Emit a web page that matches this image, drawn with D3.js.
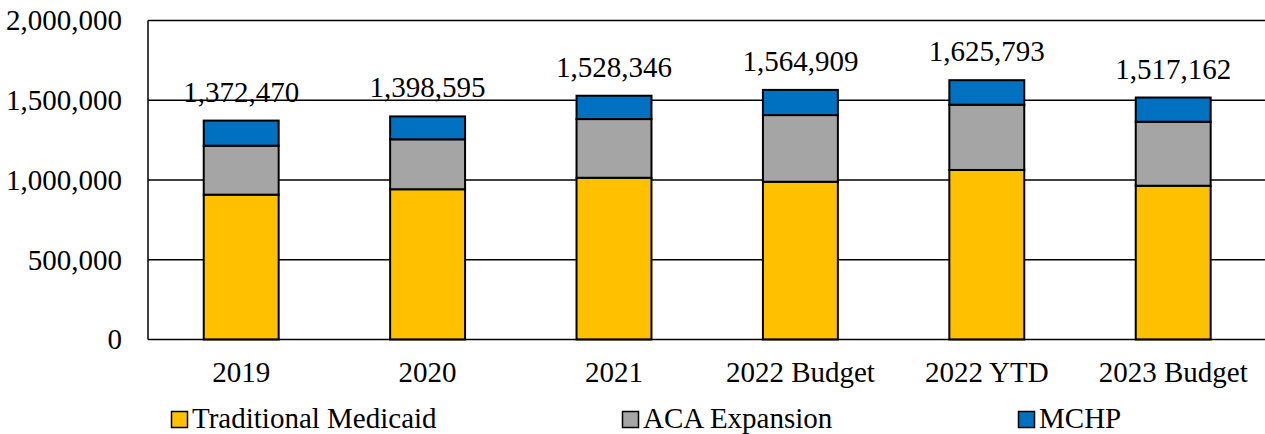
<!DOCTYPE html>
<html>
<head>
<meta charset="utf-8">
<script src="https://cdn.jsdelivr.net/npm/d3@7"></script>
<style>
  body { margin: 0; background: #fff; }
</style>
</head>
<body>
<svg id="graph" width="1265" height="434" font-family="'Liberation Serif', 'Times New Roman', serif"></svg>
<script>
// values
var categories = ["2019", "2020", "2021", "2022 Budget", "2022 YTD", "2023 Budget"];
var traditional = [908000, 942000, 1014000, 989000, 1063000, 964000];
var aca = [307000, 313000, 368000, 418000, 409000, 401000];
var mchp = [157470, 143595, 146346, 157909, 153793, 152162];
var yTicks = [0, 500000, 1000000, 1500000, 2000000];

var seriesNames = ["Traditional Medicaid", "ACA Expansion", "MCHP"];
var colors = ["#FFC000", "#A5A5A5", "#0070C0"];

var svg = d3.select("#graph");
var plotLeft = 148, plotRight = 1266.4, plotTop = 20.5, plotBottom = 339.5;

var rows = categories.map(function(c, i) {
  return { cat: c, "Traditional Medicaid": traditional[i], "ACA Expansion": aca[i], "MCHP": mchp[i] };
});
var stack = d3.stack().keys(seriesNames)(rows);

var x = d3.scaleBand().domain(categories).range([plotLeft, plotRight]).paddingInner(0.598).paddingOuter(0.299);
var y = d3.scaleLinear().domain([0, 2000000]).range([plotBottom, plotTop]);

var fmt = d3.format(",");

// gridlines
svg.append("g")
  .selectAll("line")
  .data(yTicks.slice(1))
  .enter().append("line")
  .attr("x1", plotLeft).attr("x2", 1265)
  .attr("y1", function(d) { return y(d); })
  .attr("y2", function(d) { return y(d); })
  .attr("stroke", "#000")
  .attr("stroke-width", 1.5);

// y axis labels
svg.append("g")
  .selectAll("text")
  .data(yTicks)
  .enter().append("text")
  .attr("x", 122)
  .attr("y", function(d) { return y(d); })
  .attr("dy", "0.34em")
  .attr("text-anchor", "end")
  .attr("font-size", "29px")
  .text(function(d) { return fmt(d); });

// bars
svg.append("g")
  .selectAll("g")
  .data(stack)
  .enter().append("g")
  .attr("fill", function(d, i) { return colors[i]; })
  .selectAll("rect")
  .data(function(d) { return d; })
  .enter().append("rect")
  .attr("x", function(d) { return x(d.data.cat); })
  .attr("y", function(d) { return y(d[1]); })
  .attr("width", x.bandwidth())
  .attr("height", function(d) { return y(d[0]) - y(d[1]); })
  .attr("stroke", "#000")
  .attr("stroke-width", 2);

// axis lines
svg.append("line")
  .attr("x1", plotLeft).attr("x2", plotLeft)
  .attr("y1", plotTop).attr("y2", plotBottom)
  .attr("stroke", "#000").attr("stroke-width", 1.5);
svg.append("line")
  .attr("x1", plotLeft).attr("x2", 1265)
  .attr("y1", plotBottom).attr("y2", plotBottom)
  .attr("stroke", "#000").attr("stroke-width", 1.5);

// totals above bars
svg.append("g")
  .selectAll("text")
  .data(rows)
  .enter().append("text")
  .attr("x", function(d) { return x(d.cat) + x.bandwidth() / 2; })
  .attr("y", function(d, i) { return y(traditional[i] + aca[i] + mchp[i]) - 19; })
  .attr("text-anchor", "middle")
  .attr("font-size", "29px")
  .text(function(d, i) { return fmt(traditional[i] + aca[i] + mchp[i]); });

// category labels
svg.append("g")
  .selectAll("text")
  .data(categories)
  .enter().append("text")
  .attr("x", function(d) { return x(d) + x.bandwidth() / 2; })
  .attr("y", 382)
  .attr("text-anchor", "middle")
  .attr("font-size", "29px")
  .text(function(d) { return d; });

// legend
var legendX = [171, 622, 1018];
var legend = svg.append("g")
  .selectAll("g")
  .data(seriesNames)
  .enter().append("g")
  .attr("transform", function(d, i) { return "translate(" + legendX[i] + ",0)"; });

legend.append("rect")
  .attr("x", 0.5).attr("y", 411.5)
  .attr("width", 16).attr("height", 16)
  .attr("fill", function(d, i) { return colors[i]; })
  .attr("stroke", "#000")
  .attr("stroke-width", 1.5);

legend.append("text")
  .attr("x", 21)
  .attr("y", 428)
  .attr("font-size", "29px")
  .text(function(d) { return d; });
</script>
</body>
</html>
